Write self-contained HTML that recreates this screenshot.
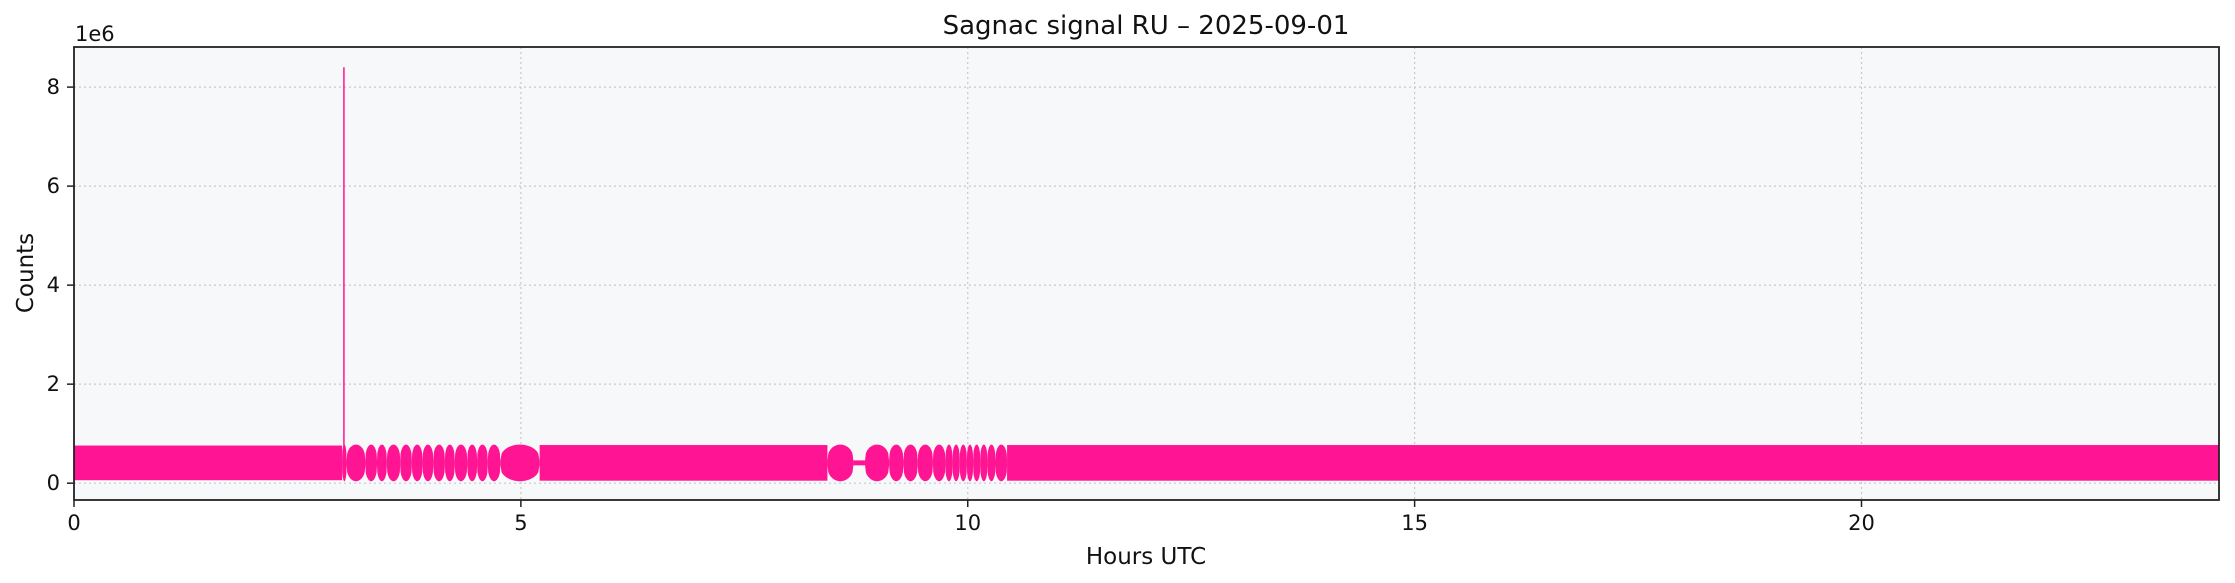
<!DOCTYPE html>
<html><head><meta charset="utf-8"><style>
html,body{margin:0;padding:0;background:#fff;}
svg{display:block;font-family:"DejaVu Sans","Liberation Sans",sans-serif;}
</style></head><body>
<svg id="chart" width="2235" height="583" viewBox="0 0 2235 583" xmlns="http://www.w3.org/2000/svg">
<rect x="0" y="0" width="2235" height="583" fill="#fff"/>
<rect x="74" y="47" width="2145" height="453" fill="#f7f8fa"/>
<g id="grid"></g>
<g id="marks"></g>
<rect x="74" y="47" width="2145" height="453" fill="none" stroke="#222" stroke-width="1.8"/>
<g id="axes"></g>
<text x="1146" y="34" font-size="26" text-anchor="middle" fill="#111">Sagnac signal RU – 2025-09-01</text>
<text x="75" y="41" font-size="21" fill="#111">1e6</text>
<text x="1146" y="564" font-size="23" text-anchor="middle" fill="#111">Hours UTC</text>
<text x="33" y="273" font-size="23" text-anchor="middle" fill="#111" transform="rotate(-90 33 273)">Counts</text>
</svg>
<script>
// ---- data (values in hours and millions of counts) ----
const xTicks = [0, 5, 10, 15, 20];
const yTicks = [0, 2, 4, 6, 8];
const bandStart = [0, 5.21, 10.44];
const bandEnd = [3.0, 8.43, 24];
const bandLow = [0.06, 0.05, 0.05];
const bandHigh = [0.76, 0.77, 0.77];
const beatNodesA = [3.0, 3.05, 3.26, 3.39, 3.50, 3.65, 3.78, 3.90, 4.02, 4.15, 4.26, 4.40, 4.51, 4.63, 4.77, 5.21];
const beatNodesB = [8.43, 8.72];
const beatNodesC = [8.85, 9.12, 9.28, 9.44, 9.61, 9.75, 9.83, 9.91, 9.99, 10.06, 10.14, 10.22, 10.31, 10.44];
const neckStart = [8.72];
const neckEnd = [8.85];
const neckHalf = [0.05];
const beatCenter = [0.41];
const beatAmp = [0.37];
const spikeHour = [3.02];
const spikeValue = [8.4];

// ---- scales ----
const X0 = 74, X1 = 2219, Y0 = 47, Y1 = 500;
const xMin = 0, xMax = 24, yMin = -0.34, yMax = 8.81;
function xs(h){ return X0 + (h - xMin) / (xMax - xMin) * (X1 - X0); }
function ys(v){ return Y1 - (v - yMin) / (yMax - yMin) * (Y1 - Y0); }

const NS = "http://www.w3.org/2000/svg";
const grid = document.getElementById('grid');
const axes = document.getElementById('axes');
const marks = document.getElementById('marks');
function mk(tag, attrs, parent){
  const e = document.createElementNS(NS, tag);
  for (const k in attrs) e.setAttribute(k, attrs[k]);
  parent.appendChild(e); return e;
}

xTicks.forEach(t => {
  const x = xs(t);
  const g = mk('line', {x1:x, x2:x, y1:Y0, y2:Y1, stroke:'#c8c8c8', 'stroke-width':1.2, 'stroke-dasharray':'2,3'}, grid);
  
  
  const tk = mk('line', {x1:x, x2:x, y1:Y1, y2:Y1+7, stroke:'#222', 'stroke-width':1.5}, axes);
  
  
  const lb = mk('text', {x:x, y:530, 'font-size':21, 'text-anchor':'middle', fill:'#111'}, axes);
  lb.textContent = t;
  
  
});
yTicks.forEach(t => {
  const y = ys(t);
  const g = mk('line', {x1:X0, x2:X1, y1:y, y2:y, stroke:'#c8c8c8', 'stroke-width':1.2, 'stroke-dasharray':'2,3'}, grid);
  
  
  const tk = mk('line', {x1:X0-7, x2:X0, y1:y, y2:y, stroke:'#222', 'stroke-width':1.5}, axes);
  
  
  const lb = mk('text', {x:60, y:y+7, 'font-size':21, 'text-anchor':'end', fill:'#111'}, axes);
  lb.textContent = t;
  
  
});

const COLOR = '#ff1493';
bandStart.forEach((s, i) => {
  const r = mk('rect', {x:xs(s), y:ys(bandHigh[i]), width:xs(bandEnd[i]) - xs(s), height:ys(bandLow[i]) - ys(bandHigh[i]), fill:COLOR}, marks);
  
  
});
function lobes(nodes){
  for (let i = 0; i < nodes.length - 1; i++){
    const a = nodes[i], b = nodes[i+1];
    const n = 30; let top = [], bot = [];
    for (let k = 0; k <= n; k++){
      const f = k / n, h = a + (b - a) * f;
      const env = beatAmp[0] * (0.1 + 0.9 * Math.pow(Math.sin(Math.PI * f), 0.35));
      top.push(xs(h).toFixed(1) + ',' + ys(beatCenter[0] + env).toFixed(1));
      bot.unshift(xs(h).toFixed(1) + ',' + ys(beatCenter[0] - env).toFixed(1));
    }
    const p = mk('polygon', {points: top.concat(bot).join(' '), fill:COLOR}, marks);
    
    
  }
}
lobes(beatNodesA); lobes(beatNodesB); lobes(beatNodesC);
neckStart.forEach((s, i) => {
  const r = mk('rect', {x:xs(s), y:ys(beatCenter[0] + neckHalf[i]), width:xs(neckEnd[i]) - xs(s), height:ys(beatCenter[0] - neckHalf[i]) - ys(beatCenter[0] + neckHalf[i]), fill:COLOR}, marks);
  
  
});
spikeHour.forEach((h, i) => {
  const l = mk('line', {x1:xs(h), x2:xs(h), y1:ys(0.4), y2:ys(spikeValue[i]), stroke:COLOR, 'stroke-width':1.5}, marks);
  
  
});
</script>
</body></html>
